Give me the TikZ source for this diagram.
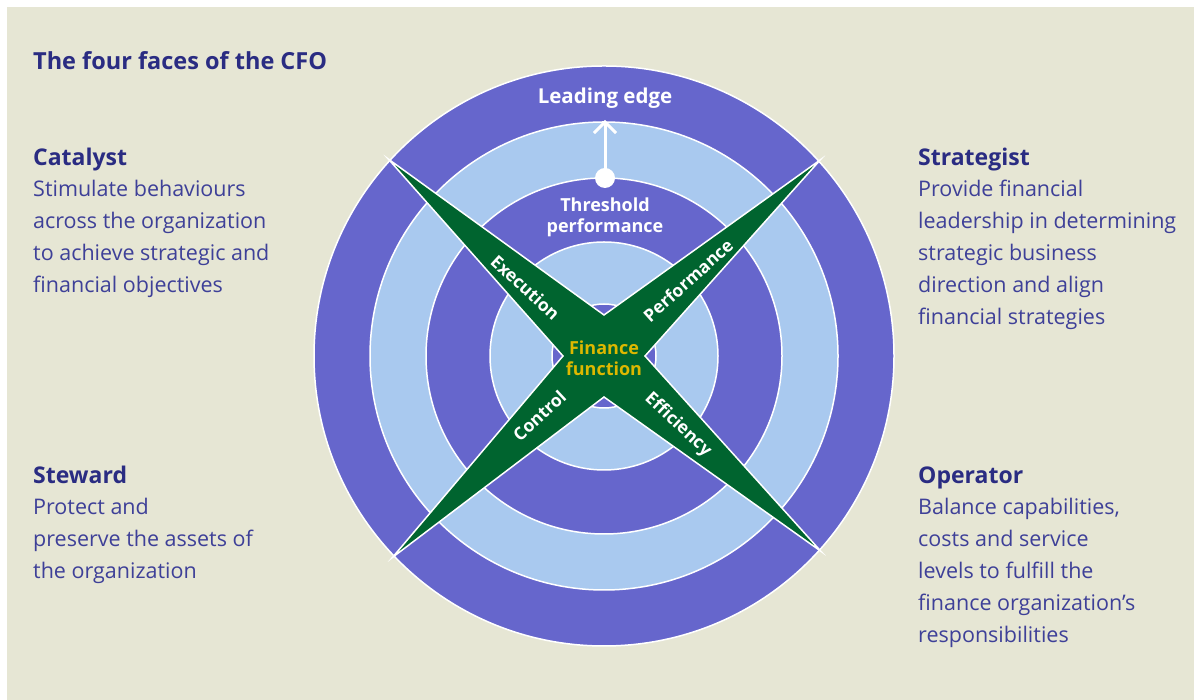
\documentclass[tikz,border=0pt]{standalone}
\usepackage{fontspec}
\setmainfont{Open Sans}
\usetikzlibrary{
  arrows.meta,
  calc
}
\definecolor{paper}{HTML}{E6E6D4}
\definecolor{ringdark}{HTML}{6666CC}
\definecolor{ringlight}{HTML}{A9C9EF}
\definecolor{crossgreen}{HTML}{00642F}
\definecolor{fnyellow}{HTML}{DDB800}
\definecolor{facehead}{HTML}{2A2C82}
\definecolor{facetext}{HTML}{3E4098}

\begin{document}
\begin{tikzpicture}[x=1pt,y=1pt,
      ring/.style={
         draw=white,
         line width=1.5pt
      },
      cross/.style={
         fill=crossgreen,
         draw=white,
         line width=1.5pt,
         line join=miter
      },
      armlabel/.style={
         text=white,
         inner sep=0pt,
         font=\fontsize{17.5}{20}\selectfont\bfseries
      },
      ringlabel/.style={
         text=white,
         align=center,
         inner sep=0pt,
         font=\fontsize{18}{21}\selectfont\bfseries
      },
      title/.style={
         anchor=base west,
         inner sep=0pt,
         text=facehead,
         font=\fontsize{23.5}{28}\selectfont\bfseries
      },
      facehead/.style={
         anchor=base west,
         inner sep=0pt,
         text=facehead,
         font=\fontsize{23}{28}\selectfont\bfseries
      },
      faceline/.style={
         anchor=base west,
         inner sep=0pt,
         text=facetext,
         font=\fontsize{21.5}{26}\selectfont
      },
      dot/.style={circle,fill=white,inner sep=0pt,minimum size=20pt},
      lead/.style={draw=white,line width=3pt,-{Straight Barb[length=11pt,width=22pt]}}
    ]
    \useasboundingbox (0,0) rectangle (1194,700);
    \fill[white] (0,0) rectangle (1194,700);
    \fill[paper] (7,0) rectangle (1194,693);

    % rings
    \coordinate (c) at (604,344);
    \foreach \r/\col in {290/ringdark,234/ringlight,178/ringdark,114/ringlight,52/ringdark}
       \filldraw[ring,fill=\col] (c) circle (\r);

    % the cross
    \filldraw[cross] ($(c)+(42.2:292)$) -- ($(c)+(90:41)$) -- ($(c)+(137.6:292)$)
       -- ($(c)+(180:41)$) -- ($(c)+(223.6:292)$) -- ($(c)+(270:41)$)
       -- ($(c)+(318:292)$) -- ($(c)+(0:41)$) -- cycle;

    \node (execution) [armlabel,rotate=-42.5] at ($(c)+(139:104)$) {Execution};
    \node (performance) [armlabel,rotate=42] at ($(c)+(42:113)$) {Performance};
    \node (control) [armlabel,rotate=43] at ($(c)+(222.7:88)$) {Control};
    \node (efficiency) [armlabel,rotate=-43] at ($(c)+(317:101)$) {Efficiency};
    \node (finance) [ringlabel,text=fnyellow] at (604,342) {Finance\\function};

    % leading edge
    \node (threshold) [ringlabel] at (605,483) {Threshold\\performance};
    \node (leading) [ringlabel,font=\fontsize{20.5}{24}\selectfont\bfseries] at (605,602) {Leading edge};
    \node (start) [dot] at (605,522) {};
    \coordinate (edge) at (605,580);
    \draw[lead] (start.center) -- (edge);

    % the four faces
    \node (title) [title] at (33,630) {The four faces of the CFO};

    \node (catalyst) [facehead] at (33,534) {Catalyst};
    \foreach \t [count=\i] in {Stimulate behaviours,across the organization,
          to achieve strategic and,financial objectives}
       \node (catalyst-\i) [faceline] at (33,535-32*\i) {\t};

    \node (steward) [facehead] at (33,216) {Steward};
    \foreach \t [count=\i] in {Protect and,preserve the assets of,the organization}
       \node (steward-\i) [faceline] at (33,217-32*\i) {\t};

    \node (strategist) [facehead] at (918,534) {Strategist};
    \foreach \t [count=\i] in {Provide financial,leadership in determining,
          strategic business,direction and align,financial strategies}
       \node (strategist-\i) [faceline] at (918,535-32*\i) {\t};

    \node (operator) [facehead] at (918,216) {Operator};
    \foreach \t [count=\i] in {{Balance capabilities,},costs and service,
          levels to fulfill the,finance organization’s,responsibilities}
       \node (operator-\i) [faceline] at (918,217-32*\i) {\t};
\end{tikzpicture}
\end{document}
